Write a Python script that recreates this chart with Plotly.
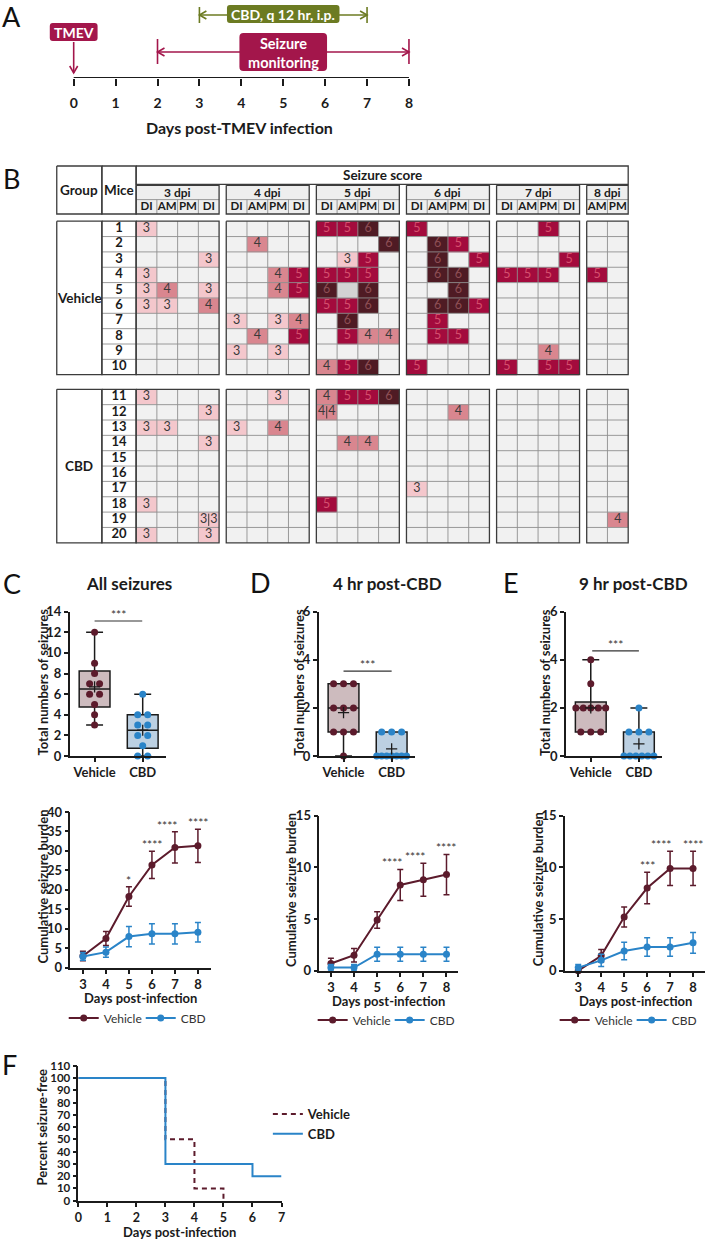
import numpy as np
import plotly.graph_objects as go
from collections import Counter

W, H = 709, 1241
FONT = "Lato"
INK = "#1b1b1b"
GRID = "#8f8f8f"
MAROON = "#5c1b2c"
BLUE = "#2a84c8"
CRIMSON = "#a3164b"
OLIVE = "#6c7b22"
VEH_FILL = "#cdbbbe"
CBD_FILL = "#bcd0e2"

# ======================= DATA =======================
# Panel A: experimental timeline (days post-TMEV infection)
timeline_days = [0, 1, 2, 3, 4, 5, 6, 7, 8]
tmev_day = 0
monitor_days = [2, 8]
cbd_days = [3, 7]

# Panel B: seizure score table ("." = none, "X" = not scored, "a/b" = two seizures)
dpi_labels = ["3 dpi", "4 dpi", "5 dpi", "6 dpi", "7 dpi", "8 dpi"]
period_labels = [["DI", "AM", "PM", "DI"]] * 5 + [["AM", "PM"]]
vehicle_mice = [1, 2, 3, 4, 5, 6, 7, 8, 9, 10]
vehicle_scores = [
    "3 . . . | . . . . | 5 5 6 . | 5 . . . | . . 5 . | . .",
    ". . . . | . 4 . . | . . . 6 | . 6 5 . | . . . . | . .",
    ". . . 3 | . . . . | . 3 5 . | . 6 . 5 | . . . 5 | . .",
    "3 . . . | . . 4 5 | 5 5 5 . | . 6 6 . | 5 5 5 . | 5 .",
    "3 4 . 3 | . . 4 5 | 6 X 6 . | . . 6 . | . . . . | . .",
    "3 3 . 4 | . . . . | 5 5 6 . | . 6 6 5 | . . . . | . .",
    ". . . . | 3 . 3 4 | . 6 . . | . 5 . . | . . . . | . .",
    ". . . . | . 4 . 5 | . 5 4 4 | . 5 5 . | . . . . | . .",
    ". . . . | 3 . 3 . | . . . . | . . . . | . . 4 . | . .",
    ". . . . | . . . . | 4 5 6 . | 5 . . . | 5 . 5 5 | . .",
]
cbd_mice = [11, 12, 13, 14, 15, 16, 17, 18, 19, 20]
cbd_scores = [
    "3 . . . | . . 3 . | 4 5 5 6 | . . . . | . . . . | . .",
    ". . . 3 | . . . . | 4/4 . . . | . . 4 . | . . . . | . .",
    "3 3 . . | 3 . 4 . | . . . . | . . . . | . . . . | . .",
    ". . . 3 | . . . . | . 4 4 . | . . . . | . . . . | . .",
    ". . . . | . . . . | . . . . | . . . . | . . . . | . .",
    ". . . . | . . . . | . . . . | . . . . | . . . . | . .",
    ". . . . | . . . . | . . . . | 3 . . . | . . . . | . .",
    "3 . . . | . . . . | 5 . . . | . . . . | . . . . | . .",
    ". . . 3/3 | . . . . | . . . . | . . . . | . . . . | . 4",
    "3 . . 3 | . . . . | . . . . | . . . . | . . . . | . .",
]

# Panels C-E (top): total numbers of seizures per mouse
box_groups = ["Vehicle", "CBD"]
all_vehicle = [12, 9, 8, 7, 7, 6, 6, 5, 4, 3]
all_cbd = [6, 4, 4, 3, 3, 2, 2, 1, 0, 0]
hr4_vehicle = [3, 3, 3, 2, 2, 2, 1, 1, 1, 0]
hr4_cbd = [1, 1, 1, 0, 0, 0, 0, 0, 0, 0]
hr9_vehicle = [4, 3, 2, 2, 2, 2, 2, 1, 1, 1]
hr9_cbd = [2, 1, 1, 1, 0, 0, 0, 0, 0, 0]
box_sig = ["***", "***", "***"]

# Panels C-E (bottom): cumulative seizure burden (mean, SEM)
burden_days = [3, 4, 5, 6, 7, 8]
c_veh_mean = [3.0, 7.5, 18.3, 26.4, 30.9, 31.3]
c_veh_sem = [1.2, 1.8, 2.5, 3.5, 4.0, 4.3]
c_cbd_mean = [2.9, 4.0, 8.0, 8.7, 8.7, 9.1]
c_cbd_sem = [1.0, 1.3, 2.6, 2.6, 2.6, 2.5]
c_sig = ["", "", "*", "****", "****", "****"]
d_veh_mean = [0.7, 1.5, 4.9, 8.3, 8.8, 9.3]
d_veh_sem = [0.5, 0.65, 0.8, 1.5, 1.6, 1.95]
d_cbd_mean = [0.3, 0.3, 1.6, 1.6, 1.6, 1.6]
d_cbd_sem = [0.3, 0.3, 0.68, 0.68, 0.68, 0.68]
d_sig = ["", "", "", "****", "****", "****"]
e_veh_mean = [0.0, 1.45, 5.2, 8.0, 9.9, 9.9]
e_veh_sem = [0.0, 0.6, 0.97, 1.53, 1.65, 1.65]
e_cbd_mean = [0.3, 1.0, 1.9, 2.3, 2.3, 2.7]
e_cbd_sem = [0.3, 0.6, 0.85, 0.9, 0.9, 1.0]
e_sig = ["", "", "", "***", "****", "****"]

# Panel F: percent seizure-free
f_veh_days = [0, 3, 4, 5]
f_veh_pct = [100, 50, 10, 0]
f_cbd_days = [0, 3, 6, 7]
f_cbd_pct = [100, 30, 20, 20]

# ======================= HELPERS =======================
def xd(a, b):
    return [a / W, b / W]


def yd(top, bottom):
    return [1 - bottom / H, 1 - top / H]


def fnt(size, bold=True, color=INK):
    return dict(family=FONT, size=size, color=color, weight="bold" if bold else "normal")


def ann(text, x, y, size=13, bold=True, color=INK, angle=0, **kw):
    d = dict(text=text, x=x / W, y=1 - y / H, xref="paper", yref="paper", showarrow=False,
             xanchor="center", yanchor="middle", textangle=angle, font=fnt(size, bold, color))
    d.update(kw)
    return d


def ax_style(**kw):
    d = dict(showline=True, linecolor=INK, linewidth=1.6, ticks="outside", ticklen=4,
             tickwidth=1.5, tickcolor=INK, showgrid=False, zeroline=False, fixedrange=True,
             automargin=False, tickfont=fnt(13))
    d.update(kw)
    return d


fig = go.Figure()
shapes, annotations = [], []
layout_axes = {}

# ======================= PANEL A =======================
A_X0, A_X8 = 74.0, 410.7
A_SCALE = (A_X8 - A_X0) / 8.0
A_AXIS_Y = 78.0
layout_axes["xaxis"] = dict(domain=[0, 1], range=[-A_X0 / A_SCALE, (W - A_X0) / A_SCALE],
                            tickvals=timeline_days, ticks="outside", ticklen=7, tickwidth=2,
                            tickcolor=INK, showline=False, showgrid=False, zeroline=False,
                            tickfont=fnt(14), ticklabelstandoff=5, anchor="y", fixedrange=True,
                            automargin=False)
layout_axes["yaxis"] = dict(domain=yd(0, A_AXIS_Y), range=[A_AXIS_Y, 0], visible=False,
                            anchor="x", fixedrange=True, automargin=False)
fig.add_trace(go.Scatter(x=timeline_days, y=[A_AXIS_Y] * len(timeline_days), mode="markers",
                         marker=dict(opacity=0), hoverinfo="skip", showlegend=False,
                         xaxis="x", yaxis="y"))


def a_line(x0, y0, x1, y1, color, width=1.6):
    shapes.append(dict(type="line", xref="x", yref="y", x0=x0, y0=y0, x1=x1, y1=y1,
                       line=dict(color=color, width=width)))


def a_chevron(tx, ty, direction, color, size=7.0, half=4.0):
    d = size / A_SCALE
    h = half / A_SCALE
    if direction == "left":
        pts = [(tx + d, ty - half), (tx, ty), (tx + d, ty + half)]
    elif direction == "right":
        pts = [(tx - d, ty - half), (tx, ty), (tx - d, ty + half)]
    else:
        pts = [(tx - h, ty - size), (tx, ty), (tx + h, ty - size)]
    path = "M{:.4f},{:.4f} L{:.4f},{:.4f} L{:.4f},{:.4f}".format(*[v for p in pts for v in p])
    shapes.append(dict(type="path", xref="x", yref="y", path=path,
                       line=dict(color=color, width=1.6)))


def a_box(cx, half_px, y0, y1, color, r=3.0):
    x0, x1 = cx - half_px / A_SCALE, cx + half_px / A_SCALE
    rx, ry = r / A_SCALE, r
    f = lambda v: f"{v:.4f}"
    path = (f"M{f(x0+rx)},{f(y0)} L{f(x1-rx)},{f(y0)} Q{f(x1)},{f(y0)} {f(x1)},{f(y0+ry)} "
            f"L{f(x1)},{f(y1-ry)} Q{f(x1)},{f(y1)} {f(x1-rx)},{f(y1)} L{f(x0+rx)},{f(y1)} "
            f"Q{f(x0)},{f(y1)} {f(x0)},{f(y1-ry)} L{f(x0)},{f(y0+ry)} Q{f(x0)},{f(y0)} {f(x0+rx)},{f(y0)} Z")
    shapes.append(dict(type="path", xref="x", yref="y", path=path, fillcolor=color,
                       line=dict(width=0)))


# axis line
a_line(timeline_days[0], A_AXIS_Y, timeline_days[-1], A_AXIS_Y, INK, 2)
# TMEV
a_line(tmev_day, 42, tmev_day, 73, CRIMSON)
a_chevron(tmev_day, 73, "down", CRIMSON)
a_box(tmev_day, 24, 23, 41, CRIMSON)
annotations.append(dict(text="TMEV", x=tmev_day, y=32, xref="x", yref="y", showarrow=False,
                        font=fnt(14, True, "white")))
# seizure monitoring
m_mid = sum(monitor_days) / 2
a_line(monitor_days[0], 52, monitor_days[1], 52, CRIMSON)
for dd, direc in zip(monitor_days, ["left", "right"]):
    a_line(dd, 39, dd, 64, CRIMSON)
    a_chevron(dd, 52, direc, CRIMSON)
a_box(m_mid, 44, 33, 71, CRIMSON, r=4)
annotations.append(dict(text="Seizure<br>monitoring", x=m_mid, y=52.5, xref="x", yref="y",
                        showarrow=False, font=fnt(14.5, True, "white")))
# CBD treatment
c_mid = sum(cbd_days) / 2
a_line(cbd_days[0], 15, cbd_days[1], 15, OLIVE)
for dd, direc in zip(cbd_days, ["left", "right"]):
    a_line(dd, 7, dd, 23, OLIVE)
    a_chevron(dd, 15, direc, OLIVE)
a_box(c_mid, 56.5, 5, 23, OLIVE)
annotations.append(dict(text="CBD, q 12 hr, i.p.", x=c_mid, y=14.5, xref="x", yref="y",
                        showarrow=False, font=fnt(14, True, "white")))
annotations.append(ann("Days post-TMEV infection", 241, 128, 16))

# ======================= PANEL B =======================
layout_axes["xaxis2"] = dict(domain=[0, 1], range=[0, W], visible=False, anchor="y2",
                             fixedrange=True, automargin=False)
layout_axes["yaxis2"] = dict(domain=[0, 1], range=[H, 0], visible=False, anchor="x2",
                             fixedrange=True, automargin=False)

B_X0 = 136.7
CELL_W = 20.83
BLOCK_STRIDE = 90.5
ROW_H = 15.35
VEH_TOP = 221.2
CBD_TOP = 389.3
GROUP_X = (57.0, 102.3)
MICE_X = (102.3, B_X0)
HDR_TOP, HDR_SCORE_BOT, HDR_DPI_TOP, HDR_MID, HDR_BOT = 166.0, 184.3, 185.3, 199.6, 214.0

CODE = {".": 0, "3": 1, "4": 2, "5": 3, "6": 4, "X": 5}
CELL_COLORS = ["#f1f1f1", "#f4c7cc", "#d9868f", "#a30b3d", "#4f1b24", "#d3d3d3"]
TEXT_COLORS = {"3": "#3a3a3a", "4": "#3a3a3a", "5": "#d6506e", "6": "#8d4e54"}
colorscale = []
for k, c in enumerate(CELL_COLORS):
    colorscale += [[k / len(CELL_COLORS), c], [(k + 1) / len(CELL_COLORS), c]]


def block_start(b):
    return B_X0 + b * BLOCK_STRIDE


def block_end(b):
    return block_start(b) + len(period_labels[b]) * CELL_W


x_edges = []
for b, labs in enumerate(period_labels):
    for k in range(len(labs)):
        x_edges.append(block_start(b) + k * CELL_W)
    x_edges.append(block_end(b))
x_edges = sorted(set(round(v, 4) for v in x_edges))

inner_x, inner_y, outer_x, outer_y = [], [], [], []


def seg(lx, ly, x0, y0, x1, y1):
    lx += [x0, x1, None]
    ly += [y0, y1, None]


def rect(lx, ly, x0, y0, x1, y1):
    lx += [x0, x1, x1, x0, x0, None]
    ly += [y0, y0, y1, y1, y0, None]


txt_x, txt_y, txt_t, txt_c = [], [], [], []
num_x, num_y, num_t = [], [], []
split_x, split_y = [], []

for top, mice, rows, gname in [(VEH_TOP, vehicle_mice, vehicle_scores, "Vehicle"),
                               (CBD_TOP, cbd_mice, cbd_scores, "CBD")]:
    nrow = len(mice)
    bot = top + nrow * ROW_H
    y_edges = [top + i * ROW_H for i in range(nrow + 1)]
    z = []
    for r, row in enumerate(rows):
        toks = [t for t in row.split() if t != "|"]
        zr = []
        col = 0
        for b, labs in enumerate(period_labels):
            for k in range(len(labs)):
                tok = toks[col]
                col += 1
                zr.append(CODE[tok.split("/")[0]])
                cx = block_start(b) + (k + 0.5) * CELL_W
                cy = top + (r + 0.5) * ROW_H
                parts = tok.split("/")
                if parts[0] in TEXT_COLORS:
                    if len(parts) == 1:
                        txt_x.append(cx); txt_y.append(cy); txt_t.append(parts[0])
                        txt_c.append(TEXT_COLORS[parts[0]])
                    else:
                        for j, p in enumerate(parts):
                            txt_x.append(cx + (j - 0.5) * CELL_W / 2); txt_y.append(cy)
                            txt_t.append(p); txt_c.append(TEXT_COLORS[p])
                        seg(split_x, split_y, cx, cy - ROW_H / 2 + 1.5, cx, cy + ROW_H / 2 - 1.5)
            if b < len(period_labels) - 1:
                zr.append(None)
        z.append(zr)
        num_x.append((MICE_X[0] + MICE_X[1]) / 2); num_y.append(top + (r + 0.5) * ROW_H)
        num_t.append(str(mice[r]))
    fig.add_trace(go.Heatmap(x=x_edges, y=y_edges, z=z, colorscale=colorscale, zmin=-0.5,
                             zmax=len(CELL_COLORS) - 0.5, showscale=False, hoverinfo="skip",
                             xaxis="x2", yaxis="y2"))
    for b, labs in enumerate(period_labels):
        s, e = block_start(b), block_end(b)
        for k in range(1, len(labs)):
            seg(inner_x, inner_y, s + k * CELL_W, top, s + k * CELL_W, bot)
        for i in range(1, nrow):
            seg(inner_x, inner_y, s, top + i * ROW_H, e, top + i * ROW_H)
        rect(outer_x, outer_y, s, top, e, bot)
    for i in range(1, nrow):
        seg(inner_x, inner_y, MICE_X[0], top + i * ROW_H, MICE_X[1], top + i * ROW_H)
    rect(outer_x, outer_y, MICE_X[0], top, MICE_X[1], bot)
    rect(outer_x, outer_y, GROUP_X[0], top, GROUP_X[1], bot)
    annotations.append(ann(gname, (GROUP_X[0] + GROUP_X[1]) / 2, (top + bot) / 2, 13.5))

# header
rect(outer_x, outer_y, GROUP_X[0], HDR_TOP, GROUP_X[1], HDR_BOT)
rect(outer_x, outer_y, MICE_X[0], HDR_TOP, MICE_X[1], HDR_BOT)
rect(outer_x, outer_y, B_X0, HDR_TOP, block_end(len(period_labels) - 1), HDR_SCORE_BOT)
sub_x, sub_y, sub_t = [], [], []
for b, labs in enumerate(period_labels):
    s, e = block_start(b), block_end(b)
    shapes.append(dict(type="rect", xref="x2", yref="y2", x0=s, x1=e, y0=HDR_DPI_TOP, y1=HDR_BOT,
                       fillcolor="#eeeeee", line=dict(width=0), layer="below"))
    rect(outer_x, outer_y, s, HDR_DPI_TOP, e, HDR_BOT)
    seg(inner_x, inner_y, s, HDR_MID, e, HDR_MID)
    for k in range(1, len(labs)):
        seg(inner_x, inner_y, s + k * CELL_W, HDR_MID, s + k * CELL_W, HDR_BOT)
    annotations.append(ann(dpi_labels[b], (s + e) / 2, (HDR_DPI_TOP + HDR_MID) / 2 + 0.5, 12))
    for k, lab in enumerate(labs):
        sub_x.append(s + (k + 0.5) * CELL_W); sub_y.append((HDR_MID + HDR_BOT) / 2 + 0.3)
        sub_t.append(lab)
annotations.append(ann("Group", (GROUP_X[0] + GROUP_X[1]) / 2, 190, 13.5))
annotations.append(ann("Mice", (MICE_X[0] + MICE_X[1]) / 2, 190, 13.5))
annotations.append(ann("Seizure score", (B_X0 + block_end(len(period_labels) - 1)) / 2, 175.3, 13.5))

fig.add_trace(go.Scatter(x=inner_x, y=inner_y, mode="lines", line=dict(color=GRID, width=0.9),
                         hoverinfo="skip", showlegend=False, xaxis="x2", yaxis="y2"))
fig.add_trace(go.Scatter(x=split_x, y=split_y, mode="lines", line=dict(color="#3a3a3a", width=1),
                         hoverinfo="skip", showlegend=False, xaxis="x2", yaxis="y2"))
fig.add_trace(go.Scatter(x=outer_x, y=outer_y, mode="lines", line=dict(color="#3c3c3c", width=1.3),
                         hoverinfo="skip", showlegend=False, xaxis="x2", yaxis="y2"))
fig.add_trace(go.Scatter(x=txt_x, y=txt_y, text=txt_t, mode="text",
                         textfont=dict(family=FONT, size=12.5, color=txt_c),
                         hoverinfo="skip", showlegend=False, xaxis="x2", yaxis="y2"))
fig.add_trace(go.Scatter(x=num_x, y=num_y, text=num_t, mode="text", textfont=fnt(13),
                         hoverinfo="skip", showlegend=False, xaxis="x2", yaxis="y2"))
fig.add_trace(go.Scatter(x=sub_x, y=sub_y, text=sub_t, mode="text", textfont=fnt(11.5),
                         hoverinfo="skip", showlegend=False, xaxis="x2", yaxis="y2"))

# ======================= PANELS C-E: box plots =======================
BOX_Y = (611.7, 756.0)
BOX_XR = [-0.517, 1.484]
BOX_PX_PER_UNIT = 48.3


def swarm_offsets(vals, max_gap=10.0, span=30.0):
    counts, seen, out = Counter(vals), Counter(), []
    for v in vals:
        n, i = counts[v], seen[v]
        seen[v] += 1
        gap = min(max_gap, span / (n - 1)) if n > 1 else 0.0
        out.append((i - (n - 1) / 2) * gap / BOX_PX_PER_UNIT)
    return out


box_panels = [
    dict(k=3, px=(70.0, 166.7), title="All seizures", title_x=130, ylab_x=42.7, ymax=14,
         veh=all_vehicle, cbd=all_cbd, sig_y=13.1, sig_span=(0.0, 0.99)),
    dict(k=4, px=(320.0, 416.7), title="4 hr post-CBD", title_x=388.7, ylab_x=300.0, ymax=6,
         veh=hr4_vehicle, cbd=hr4_cbd, sig_y=3.53, sig_span=(0.0, 1.0)),
    dict(k=5, px=(568.3, 665.0), title="9 hr post-CBD", title_x=636.3, ylab_x=547.3, ymax=6,
         veh=hr9_vehicle, cbd=hr9_cbd, sig_y=4.37, sig_span=(0.03, 1.0)),
]
for p, sig in zip(box_panels, box_sig):
    k = p["k"]
    xa, ya = f"x{k}", f"y{k}"
    layout_axes[f"xaxis{k}"] = ax_style(domain=xd(*p["px"]), range=BOX_XR, tickvals=[0, 1],
                                        ticktext=box_groups, anchor=ya)
    layout_axes[f"yaxis{k}"] = ax_style(domain=yd(*BOX_Y), range=[0, p["ymax"]],
                                        tickvals=list(range(0, p["ymax"] + 1, 2)), anchor=xa)
    for gi, (vals, fill, col) in enumerate([(p["veh"], VEH_FILL, MAROON), (p["cbd"], CBD_FILL, BLUE)]):
        q1, med, q3 = np.percentile(vals, [25, 50, 75], method="weibull")
        fig.add_trace(go.Box(x=[gi], q1=[float(q1)], median=[float(med)], q3=[float(q3)],
                             lowerfence=[float(min(vals))], upperfence=[float(max(vals))],
                             width=0.64, whiskerwidth=0.55, fillcolor=fill,
                             line=dict(color=INK, width=1.5), boxpoints=False,
                             hoverinfo="skip", showlegend=False, xaxis=xa, yaxis=ya))
        offs = swarm_offsets(vals)
        fig.add_trace(go.Scatter(x=[gi + o for o in offs], y=vals, mode="markers",
                                 marker=dict(color=col, size=7), cliponaxis=False,
                                 hoverinfo="skip", showlegend=False, xaxis=xa, yaxis=ya))
        fig.add_trace(go.Scatter(x=[gi], y=[float(np.mean(vals))], mode="markers",
                                 marker=dict(symbol="cross-thin", size=8,
                                             line=dict(color=INK, width=1.3)),
                                 hoverinfo="skip", showlegend=False, xaxis=xa, yaxis=ya))
    s0, s1 = p["sig_span"]
    shapes.append(dict(type="line", xref=xa, yref=ya, x0=s0, x1=s1, y0=p["sig_y"], y1=p["sig_y"],
                       line=dict(color="#333333", width=1.2)))
    annotations.append(dict(text=sig, x=(s0 + s1) / 2, y=p["sig_y"], xref=xa, yref=ya,
                            showarrow=False, yanchor="bottom", yshift=-3,
                            font=fnt(12, False, "#333333")))
    annotations.append(ann(p["title"], p["title_x"], 583, 17))
    annotations.append(ann("Total numbers of seizures", p["ylab_x"], 682, 13, angle=-90))

# ======================= PANELS C-E: cumulative burden =======================
line_panels = [
    dict(k=6, px=(70.7, 211.7), py=(812.0, 967.7), xr=[2.455, 8.56], ymax=40,
         veh=(c_veh_mean, c_veh_sem), cbd=(c_cbd_mean, c_cbd_sem), sig=c_sig,
         sig_dx=[0, 0, 0, 0, -8, 0], legend="legend", leg=(64.0, 1018), ylab=(42.7, 887),
         xlab=(141.0, 997.5)),
    dict(k=7, px=(320.7, 460.0), py=(815.7, 970.7), xr=[2.5, 8.5], ymax=15,
         veh=(d_veh_mean, d_veh_sem), cbd=(d_cbd_mean, d_cbd_sem), sig=d_sig,
         sig_dx=[0, 0, 0, -8.5, -8.5, 0], legend="legend2", leg=(314.0, 1020), ylab=(291.7, 889.5),
         xlab=(390.5, 1000.5)),
    dict(k=8, px=(567.3, 708.0), py=(815.7, 970.7), xr=[2.42, 8.52], ymax=15,
         veh=(e_veh_mean, e_veh_sem), cbd=(e_cbd_mean, e_cbd_sem), sig=e_sig,
         sig_dx=[0, 0, 0, 0, -9, 0], legend="legend3", leg=(557.0, 1020), ylab=(540.0, 889.5),
         xlab=(637.8, 1000.5)),
]
for p in line_panels:
    k = p["k"]
    xa, ya = f"x{k}", f"y{k}"
    layout_axes[f"xaxis{k}"] = ax_style(domain=xd(*p["px"]), range=p["xr"], tickvals=burden_days,
                                        anchor=ya)
    layout_axes[f"yaxis{k}"] = ax_style(domain=yd(*p["py"]), range=[0, p["ymax"]],
                                        tickvals=list(range(0, p["ymax"] + 1, 5)), anchor=xa)
    for name, (m, s), col in [("Vehicle", p["veh"], MAROON), ("CBD", p["cbd"], BLUE)]:
        fig.add_trace(go.Scatter(x=burden_days, y=m, name=name, mode="lines+markers",
                                 line=dict(color=col, width=2), marker=dict(color=col, size=7),
                                 error_y=dict(type="data", array=s, color=col, thickness=1.5, width=3),
                                 cliponaxis=False, hoverinfo="skip", legend=p["legend"],
                                 xaxis=xa, yaxis=ya))
    vm, vs = p["veh"]
    for d, m, s, st, dx in zip(burden_days, vm, vs, p["sig"], p["sig_dx"]):
        if st:
            annotations.append(dict(text=st, x=d, y=m + s, xref=xa, yref=ya, showarrow=False,
                                    yanchor="bottom", yshift=-3, xshift=dx,
                                    font=fnt(12, False, "#333333")))
    annotations.append(ann("Cumulative seizure burden", p["ylab"][0], p["ylab"][1], 13, angle=-90))
    annotations.append(ann("Days post-infection", p["xlab"][0], p["xlab"][1], 13))
    fig.update_layout({p["legend"]: dict(orientation="h", x=p["leg"][0] / W, y=1 - p["leg"][1] / H,
                                         xanchor="left", yanchor="middle", itemwidth=30,
                                         entrywidth=32, bgcolor="rgba(0,0,0,0)",
                                         font=fnt(12, False, "#333333"))})

# ======================= PANEL F =======================
layout_axes["xaxis9"] = ax_style(domain=xd(78.7, 282.7), range=[0, 7], tickvals=list(range(0, 8)),
                                 anchor="y9", tickfont=fnt(12.5))
layout_axes["yaxis9"] = ax_style(domain=yd(1065.7, 1200.7), range=[0, 110],
                                 tickvals=list(range(0, 111, 10)), anchor="x9", tickfont=fnt(11.5))
fig.add_trace(go.Scatter(x=f_veh_days, y=f_veh_pct, name="Vehicle", mode="lines", line_shape="hv",
                         line=dict(color=MAROON, width=2, dash="5px,4px"), cliponaxis=False,
                         hoverinfo="skip", legend="legend4", xaxis="x9", yaxis="y9"))
fig.add_trace(go.Scatter(x=f_cbd_days, y=f_cbd_pct, name="CBD", mode="lines", line_shape="hv",
                         line=dict(color=BLUE, width=2), cliponaxis=False,
                         hoverinfo="skip", legend="legend4", xaxis="x9", yaxis="y9"))
fig.update_layout(legend4=dict(orientation="v", x=269 / W, y=1 - 1124 / H, xanchor="left",
                               yanchor="middle", itemwidth=30, bgcolor="rgba(0,0,0,0)",
                               font=fnt(13)))
annotations.append(ann("Percent seizure-free", 41.7, 1127, 13, angle=-90))
annotations.append(ann("Days post-infection", 180.2, 1232, 13))

# ======================= PANEL LABELS =======================
for lab, x, y in [("A", 12, 16.5), ("B", 12, 178), ("C", 12, 583), ("D", 262, 582),
                  ("E", 513, 582), ("F", 10, 1064)]:
    annotations.append(ann(lab, x, y, 27, bold=False, color="#111111"))

fig.update_layout(
    width=W, height=H, autosize=False,
    margin=dict(l=0, r=0, t=0, b=0, pad=0),
    paper_bgcolor="white", plot_bgcolor="rgba(0,0,0,0)",
    font=dict(family=FONT, color=INK),
    shapes=shapes, annotations=annotations,
    **layout_axes,
)
fig.write_html("out.html", config={"displayModeBar": False},
               post_script="document.body.style.margin='0';document.body.style.overflow='hidden';")
